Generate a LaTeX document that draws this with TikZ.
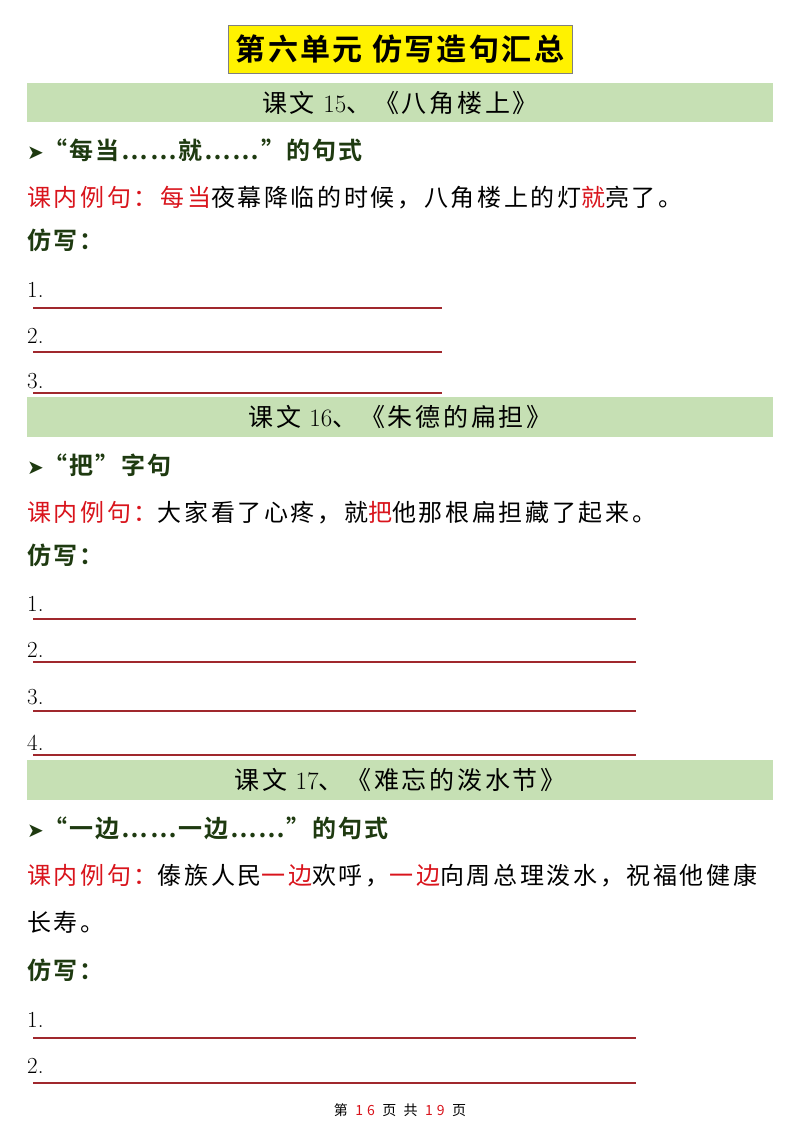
\documentclass[tikz,border=0pt]{standalone}
\usepackage{fontspec}
\newfontfamily\cjk[LetterSpace=11]{Noto Sans CJK SC}
\newfontfamily\cjkb[LetterSpace=8]{Noto Sans CJK SC Bold}
\newfontfamily\cjkf[LetterSpace=30]{Noto Sans CJK SC}
\newfontfamily\dv{DejaVu Sans}
\definecolor{band}{HTML}{C6E0B4}
\definecolor{myred}{HTML}{D9141C}
\definecolor{lnred}{HTML}{A0282D}
\definecolor{dgreen}{HTML}{1E3A10}
\begin{document}
\begin{tikzpicture}[x=1pt,y=-1pt,
  txt/.style={anchor=west,inner sep=0pt,font=\fontsize{24}{24}\cjk},
  head/.style={anchor=west,inner sep=0pt,font=\fontsize{24}{24}\cjkb,text=dgreen},
  bandtxt/.style={inner sep=0pt,font=\fontsize{25}{25}\cjk},
  num/.style={anchor=west,inner sep=0pt,font=\fontsize{23}{23}\selectfont},
  wline/.style={draw=lnred,line width=1.3pt}]
\useasboundingbox (0,0) rectangle (800,1132);
\fill[white] (0,0) rectangle (800,1132);
% title
\node[draw=gray,fill=yellow,line width=0.8pt,minimum width=344pt,minimum height=48pt,font=\fontsize{30}{30}\cjkb] (title) at (400,49) {第六单元\ 仿写造句汇总};
% bands
\fill[band] (27,83) rectangle (773,122); \node[bandtxt] (b1) at (400,103) {课文 {\rmfamily 15}、《八角楼上》};
\fill[band] (27,397) rectangle (773,437); \node[bandtxt] (b2) at (400,417) {课文 {\rmfamily 16}、《朱德的扁担》};
\fill[band] (27,760) rectangle (773,800); \node[bandtxt] (b3) at (400,780) {课文 {\rmfamily 17}、《难忘的泼水节》};
% section 1
\node[head] (h1) at (27,150) {{\dv\fontsize{20}{20}\selectfont ➤}“每当……就……”的句式};
\node[txt] (e1) at (27,198) {\textcolor{myred}{课内例句：每当}夜幕降临的时候，八角楼上的灯\textcolor{myred}{就}亮了。};
\node[head] (f1) at (27,240) {仿写：};
\node[num] (n11) at (27,290) {1.}; \coordinate (a11) at (33,308); \coordinate (c11) at (442,308); \draw[wline] (a11)--(c11);
\node[num] (n12) at (27,336) {2.}; \coordinate (a12) at (33,352); \coordinate (c12) at (442,352); \draw[wline] (a12)--(c12);
\node[num] (n13) at (27,381) {3.}; \coordinate (a13) at (33,393); \coordinate (c13) at (442,393); \draw[wline] (a13)--(c13);
% section 2
\node[head] (h2) at (27,465) {{\dv\fontsize{20}{20}\selectfont ➤}“把”字句};
\node[txt] (e2) at (27,513) {\textcolor{myred}{课内例句：}大家看了心疼，就\textcolor{myred}{把}他那根扁担藏了起来。};
\node[head] (f2) at (27,555) {仿写：};
\node[num] (n21) at (27,604) {1.}; \coordinate (a21) at (33,619); \coordinate (c21) at (636,619); \draw[wline] (a21)--(c21);
\node[num] (n22) at (27,650) {2.}; \coordinate (a22) at (33,662); \coordinate (c22) at (636,662); \draw[wline] (a22)--(c22);
\node[num] (n23) at (27,697) {3.}; \coordinate (a23) at (33,711); \coordinate (c23) at (636,711); \draw[wline] (a23)--(c23);
\node[num] (n24) at (27,743) {4.}; \coordinate (a24) at (33,755); \coordinate (c24) at (636,755); \draw[wline] (a24)--(c24);
% section 3
\node[head] (h3) at (27,828) {{\dv\fontsize{20}{20}\selectfont ➤}“一边……一边……”的句式};
\node[txt] (e3) at (27,876) {\textcolor{myred}{课内例句：}傣族人民\textcolor{myred}{一边}欢呼，\textcolor{myred}{一边}向周总理泼水，祝福他健康};
\node[txt] (e3b) at (27,922) {长寿。};
\node[head] (f3) at (27,970) {仿写：};
\node[num] (n31) at (27,1020) {1.}; \coordinate (a31) at (33,1038); \coordinate (c31) at (636,1038); \draw[wline] (a31)--(c31);
\node[num] (n32) at (27,1066) {2.}; \coordinate (a32) at (33,1083); \coordinate (c32) at (636,1083); \draw[wline] (a32)--(c32);
% footer
\node[inner sep=0pt,font=\fontsize{14}{14}\cjkf] (foot) at (400,1110) {第 \textcolor{myred}{16} 页 共 \textcolor{myred}{19} 页};
\end{tikzpicture}
\end{document}
